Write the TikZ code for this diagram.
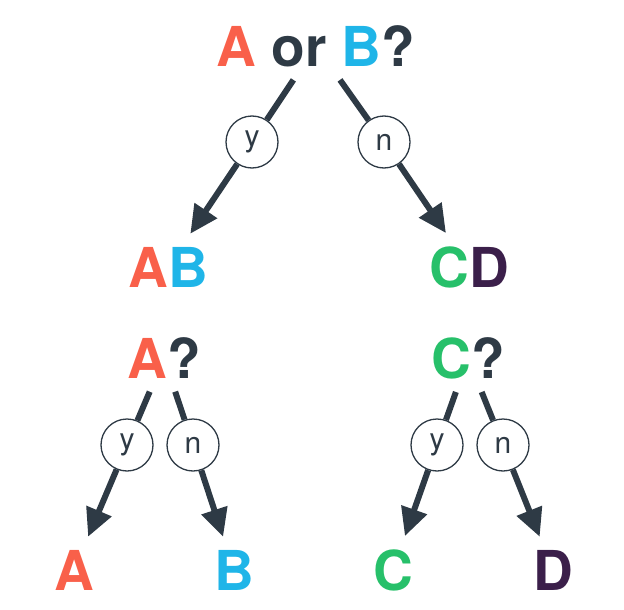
\documentclass[tikz,border=0pt]{standalone}
\usepackage{fontspec}
\setmainfont{TeX Gyre Heros}
\usetikzlibrary{arrows.meta}
\definecolor{cred}{HTML}{F9604A}
\definecolor{cblue}{HTML}{1FB5E8}
\definecolor{cgreen}{HTML}{27C06A}
\definecolor{cpurple}{HTML}{3B1F4A}
\definecolor{cdark}{HTML}{2E3A45}

\begin{document}
\begin{tikzpicture}[x=1pt,y=-1pt,>={Triangle[length=28pt,width=26pt]},big/.style={font=\fontsize{55}{60}\selectfont\bfseries,text=cdark,inner xsep=4pt,inner ysep=13pt},choice/.style={circle,draw=cdark,line width=1.3pt,minimum size=52pt,inner sep=0pt,font=\fontsize{30}{32}\selectfont,text=cdark},link/.style={draw=cdark,line width=6pt},arrow/.style={link,->}]
\useasboundingbox (0,0) rectangle (624,610);
\node[big] (top) at (316,46) {\textcolor{cred}{A} or \textcolor{cblue}{B}?};
\node[big] (ab) at (168,267) {\textcolor{cred}{A}\textcolor{cblue}{B}}; \node[big] (cd) at (469,267) {\textcolor{cgreen}{C}\textcolor{cpurple}{D}};
\node[choice] (yes0) at (252,142) {y}; \node[choice] (no0) at (384,142) {n};
\draw[link] (top)--(yes0); \draw[arrow] (yes0)--(ab);
\draw[link] (top)--(no0); \draw[arrow] (no0)--(cd);
\node[big] (askA) at (164,358) {\textcolor{cred}{A}?}; \node[big] (askC) at (468,358) {\textcolor{cgreen}{C}?};
\node[big] (la) at (74,570) {\textcolor{cred}{A}}; \node[big] (lb) at (234,570) {\textcolor{cblue}{B}};
\node[big] (lc) at (393,570) {\textcolor{cgreen}{C}}; \node[big] (ld) at (553,570) {\textcolor{cpurple}{D}};
\node[choice] (yes1) at (127,445) {y}; \node[choice] (no1) at (193,445) {n};
\node[choice] (yes2) at (437,445) {y}; \node[choice] (no2) at (503,445) {n};
\draw[link] (askA)--(yes1); \draw[arrow] (yes1)--(la);
\draw[link] (askA)--(no1); \draw[arrow] (no1)--(lb);
\draw[link] (askC)--(yes2); \draw[arrow] (yes2)--(lc);
\draw[link] (askC)--(no2); \draw[arrow] (no2)--(ld);
\end{tikzpicture}
\end{document}
